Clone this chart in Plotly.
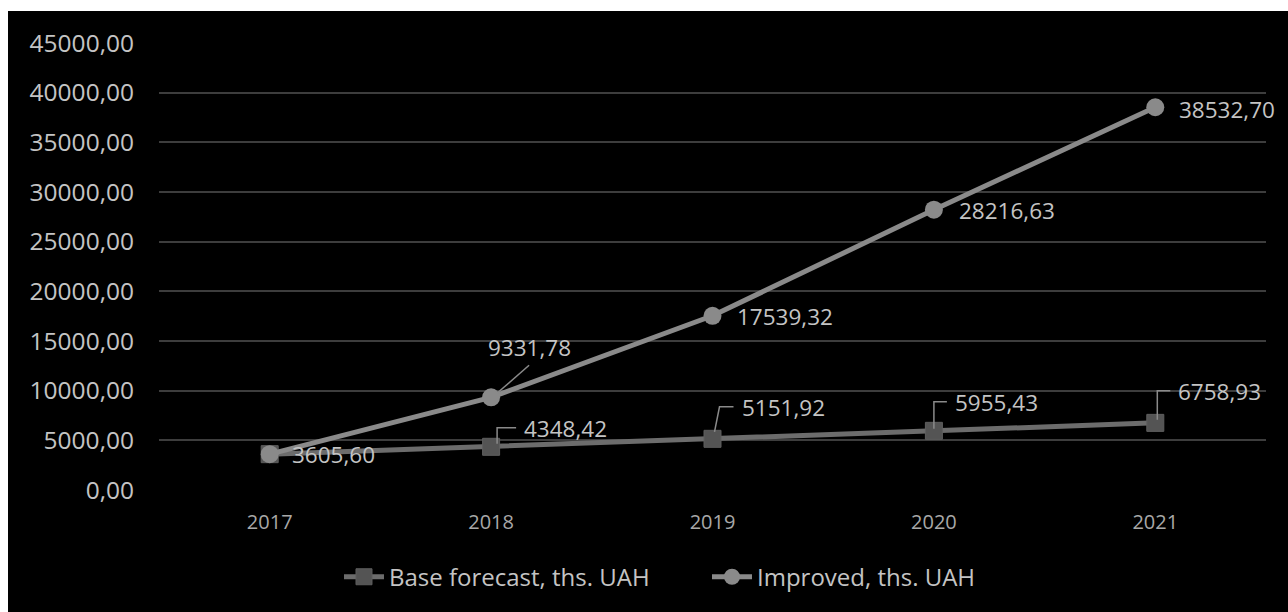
import plotly.graph_objects as go

# Forecast years and the two revenue scenarios (thousand UAH)
years = ["2017", "2018", "2019", "2020", "2021"]
base_forecast = [3605.60, 4348.42, 5151.92, 5955.43, 6758.93]
improved = [3605.60, 9331.78, 17539.32, 28216.63, 38532.70]
y_ticks = [0, 5000, 10000, 15000, 20000, 25000, 30000, 35000, 40000, 45000]
y_tick_text = ["0,00", "5000,00", "10000,00", "15000,00", "20000,00",
               "25000,00", "30000,00", "35000,00", "40000,00", "45000,00"]


def fmt(v):
    return f"{v:.2f}".replace(".", ",")


FONT = "Open Sans"
TEXT = "#c4c4c4"
LABEL_SIZE = 22.5

fig = go.Figure()
fig.add_trace(go.Scatter(
    x=years, y=base_forecast, name="Base forecast, ths. UAH",
    mode="lines+markers",
    line=dict(color="#6c6c6c", width=5),
    marker=dict(symbol="square", size=17, color="#545454",
                line=dict(color="#5e5e5e", width=1)),
))
fig.add_trace(go.Scatter(
    x=years, y=improved, name="Improved, ths. UAH",
    mode="lines+markers",
    line=dict(color="#8a8a8a", width=5),
    marker=dict(symbol="circle", size=18, color="#8a8a8a"),
))

annotations = []
shapes = []

# Dark chart panel on a white page
shapes.append(dict(type="rect", xref="paper", yref="paper",
                   x0=-0.1364, x1=1.03, y0=-0.30, y1=1.0716,
                   fillcolor="black", line=dict(width=0), layer="below"))

# Labels for the improved scenario (placed right of the point, except 2018)
imp_offsets = [(20, 0), None, (22, -1), (23, -1), (22, -2)]
for i, v in enumerate(improved):
    if imp_offsets[i] is None:
        annotations.append(dict(x=i, y=v, xref="x", yref="y", text=fmt(v),
                                showarrow=False, xanchor="center", yanchor="middle",
                                xshift=38, yshift=50,
                                font=dict(family=FONT, size=LABEL_SIZE, color=TEXT)))
        shapes.append(dict(type="line", xref="x", yref="y",
                           xsizemode="pixel", ysizemode="pixel",
                           xanchor=i, yanchor=v, x0=7, y0=5, x1=38, y1=32,
                           line=dict(color="#8a8a8a", width=1.5)))
    else:
        dx, dy = imp_offsets[i]
        annotations.append(dict(x=i, y=v, xref="x", yref="y", text=fmt(v),
                                showarrow=False, xanchor="left", yanchor="middle",
                                xshift=dx, yshift=dy,
                                font=dict(family=FONT, size=LABEL_SIZE, color=TEXT)))

# Labels for the base forecast with elbow leader lines
base_label = [None, (31, 18), (27, 31), (19, 28), (21, 31)]
base_leader = [None,
               "M 6,3 L 6,19 L 25,19",
               "M 2,7 L 7,32 L 21,32",
               "M 0,2 L 0,29 L 13,29",
               "M 2,3 L 2,32 L 15,32"]
for i, v in enumerate(base_forecast):
    if base_label[i] is None:
        continue
    dx, dy = base_label[i]
    annotations.append(dict(x=i, y=v, xref="x", yref="y", text=fmt(v),
                            showarrow=False, xanchor="left", yanchor="middle",
                            xshift=dx, yshift=dy,
                            font=dict(family=FONT, size=LABEL_SIZE, color=TEXT)))
    shapes.append(dict(type="path", xref="x", yref="y",
                       xsizemode="pixel", ysizemode="pixel",
                       xanchor=i, yanchor=v, path=base_leader[i],
                       line=dict(color="#8a8a8a", width=1.5)))

fig.update_layout(
    width=1288, height=612,
    margin=dict(l=159, r=22, t=43, b=122),
    paper_bgcolor="white",
    plot_bgcolor="rgba(0,0,0,0)",
    font=dict(family=FONT, color=TEXT),
    showlegend=True,
    legend=dict(orientation="h", x=0.1626, xanchor="left",
                y=-0.195, yanchor="middle",
                font=dict(family=FONT, size=24, color=TEXT),
                bgcolor="rgba(0,0,0,0)", itemwidth=40,
                entrywidth=313, entrywidthmode="pixels"),
    xaxis=dict(range=[-0.5, 4.5], showgrid=False, zeroline=False,
               showline=False, ticks="",
               tickfont=dict(family=FONT, size=20, color="#a8a8a8"),
               ticklabelstandoff=18),
    yaxis=dict(range=[0, 45000], tickvals=y_ticks, ticktext=y_tick_text,
               showgrid=True, gridcolor="#3d3d3d", gridwidth=2,
               zeroline=False, showline=False, ticks="",
               tickfont=dict(family=FONT, size=24.5, color=TEXT),
               ticklabelstandoff=24),
    annotations=annotations,
    shapes=shapes,
)

fig.write_html("out.html")
